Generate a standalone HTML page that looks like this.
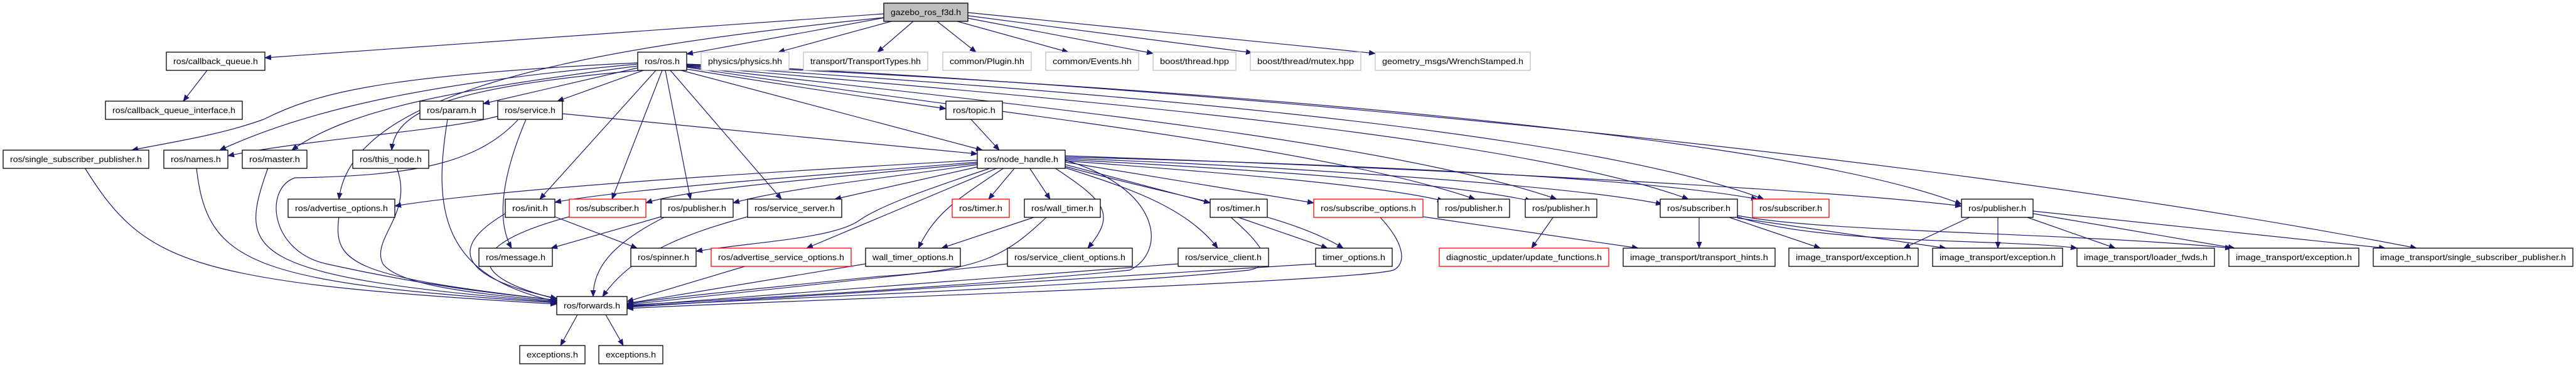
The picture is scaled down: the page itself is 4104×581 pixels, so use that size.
<!DOCTYPE html>
<html><head><meta charset="utf-8"><style>
html,body{margin:0;padding:0;background:#fff;}
svg{display:block;}
text{font-family:"Liberation Sans",sans-serif;font-size:13px;fill:#000;}
.n rect{fill:#fff;stroke:#000;stroke-width:1.3;}
.g rect{fill:#fff;stroke:#bfbfbf;stroke-width:1.3;}
.r rect{fill:#fff;stroke:#ff0000;stroke-width:1.3;}
.e path{fill:none;stroke:#191970;stroke-width:1.2;}
</style></head><body>
<svg width="4104" height="581" viewBox="0 0 4104 581" xmlns="http://www.w3.org/2000/svg">
<defs><marker id="a" markerWidth="11" markerHeight="9" refX="10" refY="4.5" orient="auto" markerUnits="userSpaceOnUse"><path d="M0,0 L11,4.5 L0,9 z" fill="#191970"/></marker></defs>
<g class="e" marker-end="url(#a)">
<path d="M1408,22 L422,92" marker-end="url(#a)"/>
<path d="M1410,28 L1094,86" marker-end="url(#a)"/>
<path d="M1420,34 L1240,83" marker-end="url(#a)"/>
<path d="M1455,34 L1398,83" marker-end="url(#a)"/>
<path d="M1493,34 L1555,83" marker-end="url(#a)"/>
<path d="M1525,34 L1702,83" marker-end="url(#a)"/>
<path d="M1542,29 L1837,85" marker-end="url(#a)"/>
<path d="M1542,25 L1995,84" marker-end="url(#a)"/>
<path d="M1542,20 L2191,85" marker-end="url(#a)"/>
<path d="M1408,28 C900,80 560,150 540,317" marker-end="url(#a)"/>
<path d="M1016,100 C600,120 500,150 420,190 C350,215 280,225 210,239" marker-end="url(#a)"/>
<path d="M1016,102 C700,130 500,170 350,239" marker-end="url(#a)"/>
<path d="M1016,105 C750,140 560,170 465,239" marker-end="url(#a)"/>
<path d="M1020,112 C700,140 630,180 624,239" marker-end="url(#a)"/>
<path d="M1016,108 L770,165" marker-end="url(#a)"/>
<path d="M1025,112 L888,161" marker-end="url(#a)"/>
<path d="M1045,112 L860,317" marker-end="url(#a)"/>
<path d="M1055,112 L975,317" marker-end="url(#a)"/>
<path d="M1060,112 L1100,317" marker-end="url(#a)"/>
<path d="M1068,112 L1245,317" marker-end="url(#a)"/>
<path d="M1085,112 L1565,239" marker-end="url(#a)"/>
<path d="M1094,110 Q1283,141 1507,173" marker-end="url(#a)"/>
<path d="M1094,107 C1500,170 2100,230 2350,317" marker-end="url(#a)"/>
<path d="M1094,106 C1550,160 2200,220 2480,317" marker-end="url(#a)"/>
<path d="M1094,105 C1600,150 2400,210 2690,317" marker-end="url(#a)"/>
<path d="M1094,104 C1650,140 2500,200 2810,317" marker-end="url(#a)"/>
<path d="M1094,103 C1700,130 2800,200 3125,325" marker-end="url(#a)"/>
<path d="M1094,102 C1700,125 3000,230 3850,395" marker-end="url(#a)"/>
<path d="M793,185 C700,210 500,220 363,248" marker-end="url(#a)"/>
<path d="M896,181 L1557,245" marker-end="url(#a)"/>
<path d="M838,190 C800,280 790,350 815,395" marker-end="url(#a)"/>
<path d="M825,191 C760,260 660,280 470,283 C420,300 430,400 520,420 C700,460 820,470 887,478" marker-end="url(#a)"/>
<path d="M713,190 C690,330 700,440 887,480" marker-end="url(#a)"/>
<path d="M1547,190 L1592,239" marker-end="url(#a)"/>
<path d="M330,112 L292,161" marker-end="url(#a)"/>
<path d="M135,267 C230,420 300,450 887,484" marker-end="url(#a)"/>
<path d="M313,267 C330,420 400,450 887,482" marker-end="url(#a)"/>
<path d="M427,267 C380,400 380,440 887,481" marker-end="url(#a)"/>
<path d="M632,267 C660,340 590,380 610,420 C640,460 800,470 887,480" marker-end="url(#a)"/>
<path d="M540,345 C530,420 560,440 887,478" marker-end="url(#a)"/>
<path d="M805,340 C720,390 720,440 887,475" marker-end="url(#a)"/>
<path d="M884,345 L1015,395" marker-end="url(#a)"/>
<path d="M907,345 C740,390 740,440 887,476" marker-end="url(#a)"/>
<path d="M1053,345 L878,395" marker-end="url(#a)"/>
<path d="M1060,345 C970,390 945,430 945,472" marker-end="url(#a)"/>
<path d="M1191,345 C1100,370 1010,400 960,472" marker-end="url(#a)"/>
<path d="M1190,423 L999,480" marker-end="url(#a)"/>
<path d="M1379,420 L999,483" marker-end="url(#a)"/>
<path d="M1605,420 L999,485" marker-end="url(#a)"/>
<path d="M1877,420 L999,487" marker-end="url(#a)"/>
<path d="M2096,420 L999,489" marker-end="url(#a)"/>
<path d="M2198,345 C2240,390 2240,420 2220,430 C2150,450 1200,480 999,491" marker-end="url(#a)"/>
<path d="M1668,345 C1600,410 1560,430 1400,440 C1200,460 1050,475 999,484" marker-end="url(#a)"/>
<path d="M1650,345 L1500,395" marker-end="url(#a)"/>
<path d="M1697,255 C1850,300 1860,400 1800,430 C1500,460 1100,480 999,486" marker-end="url(#a)"/>
<path d="M1970,345 L2115,395" marker-end="url(#a)"/>
<path d="M1960,345 C2000,380 2040,420 1990,430 C1700,460 1100,480 999,488" marker-end="url(#a)"/>
<path d="M2267,345 L2610,395" marker-end="url(#a)"/>
<path d="M2475,345 L2440,395" marker-end="url(#a)"/>
<path d="M2707,345 L2707,395" marker-end="url(#a)"/>
<path d="M2752,345 L2900,395" marker-end="url(#a)"/>
<path d="M2768,345 C2900,390 3200,380 3309,395" marker-end="url(#a)"/>
<path d="M2768,343 C2900,370 3300,370 3555,395" marker-end="url(#a)"/>
<path d="M2768,347 L3100,395" marker-end="url(#a)"/>
<path d="M3140,345 L3033,395" marker-end="url(#a)"/>
<path d="M3183,345 L3183,395" marker-end="url(#a)"/>
<path d="M3227,345 L3370,395" marker-end="url(#a)"/>
<path d="M3239,340 L3560,395" marker-end="url(#a)"/>
<path d="M3239,336 L3800,395" marker-end="url(#a)"/>
<path d="M920,501 L893,550" marker-end="url(#a)"/>
<path d="M965,501 L993,550" marker-end="url(#a)"/>
<path d="M1557,255 C1200,275 800,300 629,328" marker-end="url(#a)"/>
<path d="M1557,258 C1300,280 1000,300 884,322" marker-end="url(#a)"/>
<path d="M1557,260 C1300,285 1100,300 1029,323" marker-end="url(#a)"/>
<path d="M1557,262 C1400,285 1250,300 1168,323" marker-end="url(#a)"/>
<path d="M1565,264 L1330,317" marker-end="url(#a)"/>
<path d="M1580,267 C1450,310 1400,330 1370,350 C1330,380 1200,385 1109,400" marker-end="url(#a)"/>
<path d="M1590,267 L1285,395" marker-end="url(#a)"/>
<path d="M1600,267 C1520,320 1490,340 1463,395" marker-end="url(#a)"/>
<path d="M1617,267 L1575,317" marker-end="url(#a)"/>
<path d="M1640,267 L1673,317" marker-end="url(#a)"/>
<path d="M1680,267 C1760,320 1780,340 1733,395" marker-end="url(#a)"/>
<path d="M1697,262 L1928,323" marker-end="url(#a)"/>
<path d="M1697,267 C1800,300 1890,330 1940,395" marker-end="url(#a)"/>
<path d="M1697,265 C1900,320 2050,340 2140,395" marker-end="url(#a)"/>
<path d="M1697,258 L2093,323" marker-end="url(#a)"/>
<path d="M1697,256 C1950,275 2200,295 2300,320" marker-end="url(#a)"/>
<path d="M1697,254 C2000,270 2300,290 2440,320" marker-end="url(#a)"/>
<path d="M1697,252 C2050,265 2500,295 2648,325" marker-end="url(#a)"/>
<path d="M1697,250 C2100,260 2600,280 2800,317" marker-end="url(#a)"/>
<path d="M1697,248 C2200,265 2900,300 3125,328" marker-end="url(#a)"/>
</g>
<g class="g"><rect x="1408" y="5" width="134" height="29" style="fill:#bfbfbf;stroke:#000"/><text x="1475" y="24" text-anchor="middle" textLength="112" lengthAdjust="spacingAndGlyphs">gazebo_ros_f3d.h</text></g>
<g class="n"><rect x="265" y="83" width="157" height="29"/><text x="343.5" y="102" text-anchor="middle" textLength="135" lengthAdjust="spacingAndGlyphs">ros/callback_queue.h</text></g>
<g class="n"><rect x="1016" y="83" width="78" height="29"/><text x="1055" y="102" text-anchor="middle" textLength="56" lengthAdjust="spacingAndGlyphs">ros/ros.h</text></g>
<g class="g"><rect x="1117" y="83" width="140" height="29"/><text x="1187" y="102" text-anchor="middle" textLength="118" lengthAdjust="spacingAndGlyphs">physics/physics.hh</text></g>
<g class="g"><rect x="1280" y="83" width="198" height="29"/><text x="1379" y="102" text-anchor="middle" textLength="176" lengthAdjust="spacingAndGlyphs">transport/TransportTypes.hh</text></g>
<g class="g"><rect x="1502" y="83" width="141" height="29"/><text x="1572.5" y="102" text-anchor="middle" textLength="119" lengthAdjust="spacingAndGlyphs">common/Plugin.hh</text></g>
<g class="g"><rect x="1666" y="83" width="148" height="29"/><text x="1740" y="102" text-anchor="middle" textLength="126" lengthAdjust="spacingAndGlyphs">common/Events.hh</text></g>
<g class="g"><rect x="1837" y="83" width="132" height="29"/><text x="1903" y="102" text-anchor="middle" textLength="110" lengthAdjust="spacingAndGlyphs">boost/thread.hpp</text></g>
<g class="g"><rect x="1992" y="83" width="176" height="29"/><text x="2080" y="102" text-anchor="middle" textLength="154" lengthAdjust="spacingAndGlyphs">boost/thread/mutex.hpp</text></g>
<g class="g"><rect x="2191" y="83" width="247" height="29"/><text x="2314.5" y="102" text-anchor="middle" textLength="225" lengthAdjust="spacingAndGlyphs">geometry_msgs/WrenchStamped.h</text></g>
<g class="n"><rect x="168" y="161" width="218" height="29"/><text x="277" y="180" text-anchor="middle" textLength="196" lengthAdjust="spacingAndGlyphs">ros/callback_queue_interface.h</text></g>
<g class="n"><rect x="669" y="161" width="101" height="29"/><text x="719.5" y="180" text-anchor="middle" textLength="79" lengthAdjust="spacingAndGlyphs">ros/param.h</text></g>
<g class="n"><rect x="793" y="161" width="103" height="29"/><text x="844.5" y="180" text-anchor="middle" textLength="81" lengthAdjust="spacingAndGlyphs">ros/service.h</text></g>
<g class="n"><rect x="1507" y="161" width="90" height="29"/><text x="1552" y="180" text-anchor="middle" textLength="68" lengthAdjust="spacingAndGlyphs">ros/topic.h</text></g>
<g class="n"><rect x="5" y="239" width="232" height="29"/><text x="121" y="258" text-anchor="middle" textLength="210" lengthAdjust="spacingAndGlyphs">ros/single_subscriber_publisher.h</text></g>
<g class="n"><rect x="261" y="239" width="102" height="29"/><text x="312" y="258" text-anchor="middle" textLength="80" lengthAdjust="spacingAndGlyphs">ros/names.h</text></g>
<g class="n"><rect x="386" y="239" width="103" height="29"/><text x="437.5" y="258" text-anchor="middle" textLength="81" lengthAdjust="spacingAndGlyphs">ros/master.h</text></g>
<g class="n"><rect x="562" y="239" width="121" height="29"/><text x="622.5" y="258" text-anchor="middle" textLength="99" lengthAdjust="spacingAndGlyphs">ros/this_node.h</text></g>
<g class="n"><rect x="1557" y="239" width="140" height="29"/><text x="1627" y="258" text-anchor="middle" textLength="118" lengthAdjust="spacingAndGlyphs">ros/node_handle.h</text></g>
<g class="n"><rect x="459" y="317" width="170" height="29"/><text x="544" y="336" text-anchor="middle" textLength="148" lengthAdjust="spacingAndGlyphs">ros/advertise_options.h</text></g>
<g class="n"><rect x="805" y="317" width="79" height="29"/><text x="844.5" y="336" text-anchor="middle" textLength="57" lengthAdjust="spacingAndGlyphs">ros/init.h</text></g>
<g class="r"><rect x="907" y="317" width="122" height="29"/><text x="968" y="336" text-anchor="middle" textLength="100" lengthAdjust="spacingAndGlyphs">ros/subscriber.h</text></g>
<g class="n"><rect x="1053" y="317" width="115" height="29"/><text x="1110.5" y="336" text-anchor="middle" textLength="93" lengthAdjust="spacingAndGlyphs">ros/publisher.h</text></g>
<g class="n"><rect x="1191" y="317" width="150" height="29"/><text x="1266" y="336" text-anchor="middle" textLength="128" lengthAdjust="spacingAndGlyphs">ros/service_server.h</text></g>
<g class="r"><rect x="1517" y="317" width="91" height="29"/><text x="1562.5" y="336" text-anchor="middle" textLength="69" lengthAdjust="spacingAndGlyphs">ros/timer.h</text></g>
<g class="n"><rect x="1632" y="317" width="121" height="29"/><text x="1692.5" y="336" text-anchor="middle" textLength="99" lengthAdjust="spacingAndGlyphs">ros/wall_timer.h</text></g>
<g class="n"><rect x="1928" y="317" width="91" height="29"/><text x="1973.5" y="336" text-anchor="middle" textLength="69" lengthAdjust="spacingAndGlyphs">ros/timer.h</text></g>
<g class="r"><rect x="2093" y="317" width="174" height="29"/><text x="2180" y="336" text-anchor="middle" textLength="152" lengthAdjust="spacingAndGlyphs">ros/subscribe_options.h</text></g>
<g class="n"><rect x="2291" y="317" width="114" height="29"/><text x="2348" y="336" text-anchor="middle" textLength="92" lengthAdjust="spacingAndGlyphs">ros/publisher.h</text></g>
<g class="n"><rect x="2430" y="317" width="114" height="29"/><text x="2487" y="336" text-anchor="middle" textLength="92" lengthAdjust="spacingAndGlyphs">ros/publisher.h</text></g>
<g class="n"><rect x="2645" y="317" width="123" height="29"/><text x="2706.5" y="336" text-anchor="middle" textLength="101" lengthAdjust="spacingAndGlyphs">ros/subscriber.h</text></g>
<g class="r"><rect x="2792" y="317" width="122" height="29"/><text x="2853" y="336" text-anchor="middle" textLength="100" lengthAdjust="spacingAndGlyphs">ros/subscriber.h</text></g>
<g class="n"><rect x="3125" y="317" width="114" height="29"/><text x="3182" y="336" text-anchor="middle" textLength="92" lengthAdjust="spacingAndGlyphs">ros/publisher.h</text></g>
<g class="n"><rect x="763" y="395" width="117" height="29"/><text x="821.5" y="414" text-anchor="middle" textLength="95" lengthAdjust="spacingAndGlyphs">ros/message.h</text></g>
<g class="n"><rect x="1005" y="395" width="104" height="29"/><text x="1057" y="414" text-anchor="middle" textLength="82" lengthAdjust="spacingAndGlyphs">ros/spinner.h</text></g>
<g class="r"><rect x="1133" y="395" width="223" height="29"/><text x="1244.5" y="414" text-anchor="middle" textLength="201" lengthAdjust="spacingAndGlyphs">ros/advertise_service_options.h</text></g>
<g class="n"><rect x="1379" y="395" width="151" height="29"/><text x="1454.5" y="414" text-anchor="middle" textLength="129" lengthAdjust="spacingAndGlyphs">wall_timer_options.h</text></g>
<g class="n"><rect x="1605" y="395" width="199" height="29"/><text x="1704.5" y="414" text-anchor="middle" textLength="177" lengthAdjust="spacingAndGlyphs">ros/service_client_options.h</text></g>
<g class="n"><rect x="1877" y="395" width="144" height="29"/><text x="1949" y="414" text-anchor="middle" textLength="122" lengthAdjust="spacingAndGlyphs">ros/service_client.h</text></g>
<g class="n"><rect x="2096" y="395" width="122" height="29"/><text x="2157" y="414" text-anchor="middle" textLength="100" lengthAdjust="spacingAndGlyphs">timer_options.h</text></g>
<g class="r"><rect x="2293" y="395" width="270" height="29"/><text x="2428" y="414" text-anchor="middle" textLength="248" lengthAdjust="spacingAndGlyphs">diagnostic_updater/update_functions.h</text></g>
<g class="n"><rect x="2586" y="395" width="242" height="29"/><text x="2707" y="414" text-anchor="middle" textLength="220" lengthAdjust="spacingAndGlyphs">image_transport/transport_hints.h</text></g>
<g class="n"><rect x="2850" y="395" width="206" height="29"/><text x="2953" y="414" text-anchor="middle" textLength="184" lengthAdjust="spacingAndGlyphs">image_transport/exception.h</text></g>
<g class="n"><rect x="3079" y="395" width="207" height="29"/><text x="3182.5" y="414" text-anchor="middle" textLength="185" lengthAdjust="spacingAndGlyphs">image_transport/exception.h</text></g>
<g class="n"><rect x="3309" y="395" width="219" height="29"/><text x="3418.5" y="414" text-anchor="middle" textLength="197" lengthAdjust="spacingAndGlyphs">image_transport/loader_fwds.h</text></g>
<g class="n"><rect x="3551" y="395" width="207" height="29"/><text x="3654.5" y="414" text-anchor="middle" textLength="185" lengthAdjust="spacingAndGlyphs">image_transport/exception.h</text></g>
<g class="n"><rect x="3781" y="395" width="318" height="29"/><text x="3940" y="414" text-anchor="middle" textLength="296" lengthAdjust="spacingAndGlyphs">image_transport/single_subscriber_publisher.h</text></g>
<g class="n"><rect x="887" y="472" width="112" height="29"/><text x="943" y="491" text-anchor="middle" textLength="90" lengthAdjust="spacingAndGlyphs">ros/forwards.h</text></g>
<g class="n"><rect x="828" y="550" width="104" height="29"/><text x="880" y="569" text-anchor="middle" textLength="82" lengthAdjust="spacingAndGlyphs">exceptions.h</text></g>
<g class="n"><rect x="954" y="550" width="102" height="29"/><text x="1005" y="569" text-anchor="middle" textLength="80" lengthAdjust="spacingAndGlyphs">exceptions.h</text></g>
</svg>
</body></html>
